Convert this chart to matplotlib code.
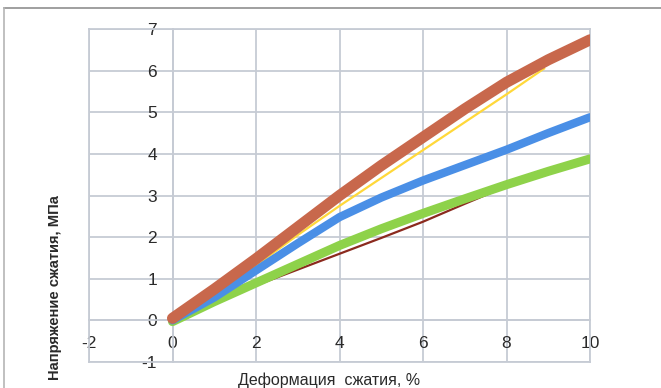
import matplotlib
matplotlib.use("Agg")
import matplotlib.pyplot as plt
from matplotlib.lines import Line2D

plt.rcParams['font.family'] = ['Liberation Sans', 'DejaVu Sans']
plt.rcParams['axes.unicode_minus'] = False

# readings (strain %, stress MPa)
x_main = [0, 1, 2, 3, 4, 5, 6, 7, 8, 9, 10]
red_y = [0.05, 0.75, 1.48, 2.24, 3.0, 3.72, 4.4, 5.08, 5.72, 6.26, 6.74]
blue_y = [0.0, 0.55, 1.2, 1.85, 2.48, 2.95, 3.36, 3.73, 4.1, 4.5, 4.88]
green_y = [-0.03, 0.45, 0.9, 1.35, 1.8, 2.2, 2.57, 2.92, 3.26, 3.58, 3.88]
darkred_y = [-0.03, 0.42, 0.84, 1.22, 1.6, 1.98, 2.37, 2.8, 3.22, 3.55, 3.85]
x_yellow = [0, 1, 2, 3, 4, 5, 6, 7, 8, 8.9]
yellow_y = [0.0, 0.62, 1.32, 2.05, 2.75, 3.42, 4.09, 4.76, 5.43, 6.05]

xticks = [-2, 0, 2, 4, 6, 8, 10]
yticks = [-1, 0, 1, 2, 3, 4, 5, 6, 7]

fig = plt.figure(figsize=(6.61, 3.88), dpi=100)
ax = fig.add_axes([89/661, 1-362/388, 501/661, 333/388])

grid_c = '#c6cbd4'
ax.plot(x_main, darkred_y, color='#8b2a1e', lw=1.6, zorder=3)
ax.plot(x_main, green_y, color='#8ed24a', lw=6.5, zorder=4, solid_capstyle='round',
        solid_joinstyle='round')
ax.plot(x_yellow, yellow_y, color='#ffd83a', lw=1.6, zorder=5)
ax.plot(x_main, blue_y, color='#4a8fe6', lw=6, zorder=6, solid_capstyle='round',
        solid_joinstyle='round')
ax.plot(x_main, red_y, color='#c8684c', lw=8, zorder=7, solid_capstyle='round',
        solid_joinstyle='round')

ax.set_xlim(-2, 10)
ax.set_ylim(-1, 7)
ax.set_xticks(xticks)
ax.set_yticks(yticks)
ax.grid(True, color=grid_c, lw=1.3)
ax.set_axisbelow(True)

# excel style: axes cross at zero
ax.spines['left'].set_position(('data', 0))
ax.spines['bottom'].set_position(('data', 0))
for s in ['left', 'bottom']:
    ax.spines[s].set_color(grid_c)
    ax.spines[s].set_linewidth(1.3)
for s in ['top', 'right']:
    ax.spines[s].set_visible(False)
ax.tick_params(length=0, labelsize=12.5, labelcolor='#2a2a2a')
ax.tick_params(axis='y', pad=11)
ax.tick_params(axis='x', pad=11)

# plot area border
for xv in [-2, 10]:
    ax.axvline(xv, color=grid_c, lw=1.3, clip_on=False, zorder=1)
for yv in [-1, 7]:
    ax.axhline(yv, color=grid_c, lw=1.3, clip_on=False, zorder=1)

fig.text(55/661, 1-288/388, 'Напряжение сжатия, МПа', rotation=90,
         ha='center', va='center', fontsize=10.6, fontweight='bold', color='#2a2a2a')
fig.text(329/661, 1-380/388, 'Деформация  сжатия, %', ha='center', va='center',
         fontsize=11.5, color='#2a2a2a')

# outer chart frame (top and left edges visible)
fig.add_artist(Line2D([4/661, 1], [1-8/388, 1-8/388], color='#8f8f8f', lw=1.2))
fig.add_artist(Line2D([4/661, 4/661], [0, 1-8/388], color='#b5b5b5', lw=1.2))

fig.savefig('out.png', dpi=100)
